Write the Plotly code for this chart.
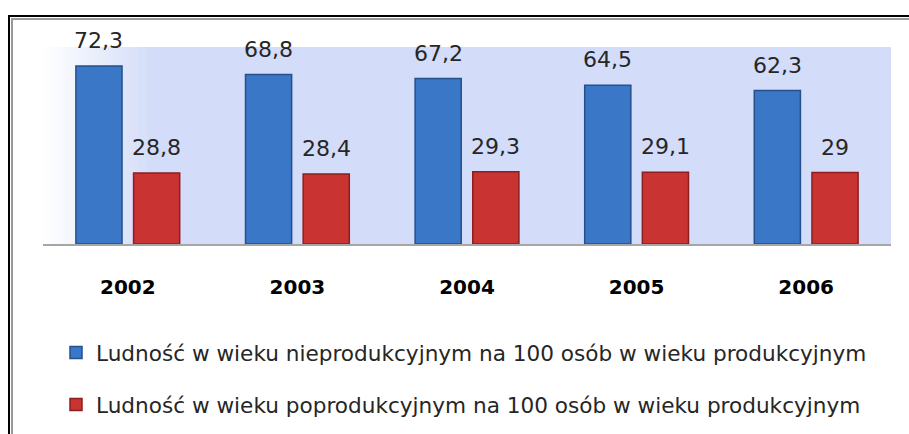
import plotly.graph_objects as go

years = ["2002", "2003", "2004", "2005", "2006"]
nonprod = [72.3, 68.8, 67.2, 64.5, 62.3]
postprod = [28.8, 28.4, 29.3, 29.1, 29]
series_names = [
    "Ludność w wieku nieprodukcyjnym na 100 osób w wieku produkcyjnym",
    "Ludność w wieku poprodukcyjnym na 100 osób w wieku produkcyjnym",
]

FONT = "DejaVu Sans"
W, H = 909, 434
L, R, T, B = 43, 18, 47, 190
plot_w = W - L - R
plot_h = H - T - B


def fmt(v):
    return f"{v:g}".replace(".", ",")


fig = go.Figure()
fig.add_trace(go.Bar(
    x=years, y=nonprod, name=series_names[0], legendgroup="a",
    marker=dict(color="#3A77C6", line=dict(color="#24508D", width=1.5)),
))
fig.add_trace(go.Bar(
    x=years, y=postprod, name=series_names[1], legendgroup="b",
    marker=dict(color="#C93432", line=dict(color="#8C1F1E", width=1.5)),
))

# data labels (x as category index)
annotations = []
band = plot_w / len(years)
off = band * (1 - 0.32) / 4
for vals, sh in ((nonprod, -off), (postprod, off)):
    for i, v in enumerate(vals):
        annotations.append(dict(
            x=i, y=v, xref="x", yref="y", text=fmt(v), showarrow=False,
            xshift=sh, yshift=11, yanchor="bottom",
            font=dict(family=FONT, size=22, color="#262626"),
        ))

# plot background gradient on the left edge
shapes = []
n = 30
bg = (211, 220, 248)
gw = 0.13
for i in range(n):
    t = (i + 0.5) / n
    c = tuple(round(255 + (b - 255) * t) for b in bg)
    shapes.append(dict(
        type="rect", xref="paper", yref="paper", layer="below",
        x0=gw * i / n, x1=gw * (i + 1) / n + 0.001, y0=0, y1=1,
        fillcolor=f"rgb{c}", line=dict(width=0),
    ))


def px_x(px):
    return (px - L) / plot_w


def px_y(py):
    return (H - B - py) / plot_h


# outer frame (black + grey inner line)
shapes.append(dict(type="rect", xref="paper", yref="paper", layer="above",
                   x0=px_x(9), x1=px_x(930), y0=px_y(460), y1=px_y(16),
                   line=dict(color="black", width=2), fillcolor="rgba(0,0,0,0)"))
shapes.append(dict(type="rect", xref="paper", yref="paper", layer="above",
                   x0=px_x(12), x1=px_x(930), y0=px_y(460), y1=px_y(19),
                   line=dict(color="#9A9A9A", width=2), fillcolor="rgba(0,0,0,0)"))

fig.update_layout(
    width=W, height=H,
    margin=dict(l=L, r=R, t=T, b=B, pad=0, autoexpand=False),
    paper_bgcolor="white",
    plot_bgcolor="rgb(211,220,248)",
    barmode="group", bargap=0.32, bargroupgap=0.2,
    showlegend=True,
    legend=dict(
        orientation="v", xref="container", yref="container",
        x=56 / W, xanchor="left", y=1 - 332 / H, yanchor="top",
        font=dict(family=FONT, size=21.6, color="#262626"),
        traceorder="grouped", tracegroupgap=21,
        bgcolor="rgba(0,0,0,0)", itemclick=False,
    ),
    annotations=annotations,
    shapes=shapes,
    font=dict(family=FONT),
)
fig.update_xaxes(
    type="category", range=[-0.5, len(years) - 0.5], autorange=False,
    showgrid=False, showline=True, linecolor="#A6A6A6", linewidth=1.5,
    ticks="", ticklabelstandoff=24,
    tickfont=dict(family=FONT, size=20, color="black", weight="bold"),
)
fig.update_yaxes(range=[0, 80], autorange=False, visible=False,
                 showgrid=False, zeroline=False)

fig.write_html(
    "out.html",
    config={"displayModeBar": False},
    post_script="document.body.style.margin='0px';document.body.style.padding='0px';",
)
